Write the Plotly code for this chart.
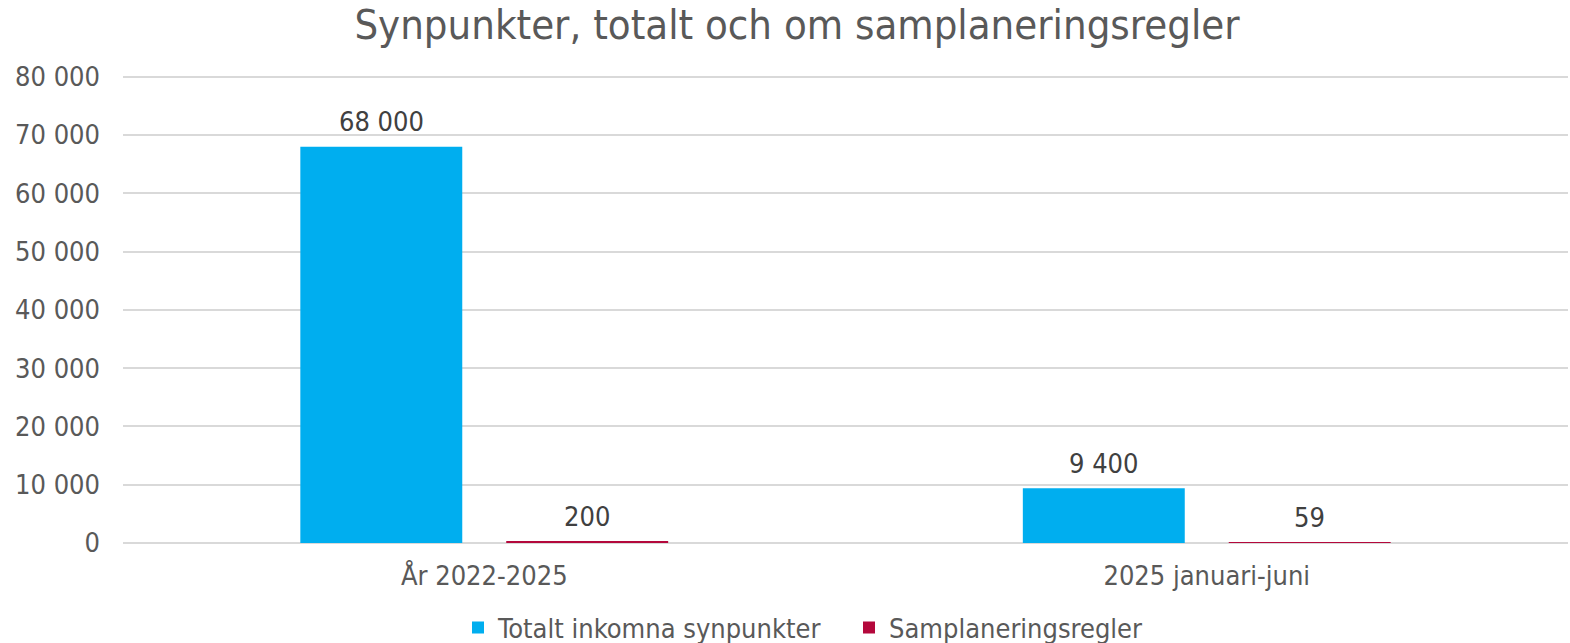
import plotly.graph_objects as go

categories = ["År 2022-2025", "2025 januari-juni"]
series_names = ["Totalt inkomna synpunkter", "Samplaneringsregler"]
totalt = [68000, 9400]
samplanering = [200, 59]
tick_vals = [0, 10000, 20000, 30000, 40000, 50000, 60000, 70000, 80000]
tick_text = ["0", "10 000", "20 000", "30 000", "40 000", "50 000", "60 000", "70 000", "80 000"]
label_totalt = ["68 000", "9 400"]
label_samplanering = ["200", "59"]

FONT = "DejaVu Sans Condensed, DejaVu Sans, sans-serif"
colors = ["#00AEEF", "#B4083C"]

W, H = 1570, 643
ML, MR, MT, MB = 123, 2, 75, 100
BARGAP, BARGROUPGAP = 0.43, 0.2136

fig = go.Figure()
for name, vals, col in zip(series_names, [totalt, samplanering], colors):
    fig.add_trace(go.Bar(
        x=categories, y=vals, name=name,
        marker=dict(color=col, line=dict(width=0)),
    ))

# data labels above each bar
cat_px = (W - ML - MR) / len(categories)
slot_px = cat_px * (1 - BARGAP) / 2
for i, (vals, labels) in enumerate([(totalt, label_totalt), (samplanering, label_samplanering)]):
    shift = (i - 0.5) * slot_px
    for c, v, t in zip(categories, vals, labels):
        fig.add_annotation(x=c, y=v, xref="x", yref="y", text=t, showarrow=False,
                           xshift=shift, yshift=25, yanchor="middle", xanchor="center",
                           font=dict(size=27, color="#404040", family=FONT))

fig.update_layout(
    width=W, height=H,
    margin=dict(l=ML, r=MR, t=MT, b=MB),
    paper_bgcolor="white", plot_bgcolor="white",
    font=dict(family=FONT, color="#595959", size=27),
    title=dict(text="Synpunkter, totalt och om samplaneringsregler",
               x=797 / W, xanchor="center", y=0.962, yanchor="middle",
               font=dict(size=41.5, color="#595959", family=FONT)),
    barmode="group", bargap=BARGAP, bargroupgap=BARGROUPGAP,
    legend=dict(orientation="h", x=(472 - 14) / W, xanchor="left", xref="container",
                y=1 - 628 / H, yanchor="middle", yref="container",
                font=dict(size=27, color="#595959", family=FONT),
                itemwidth=30, tracegroupgap=0, entrywidth=346, entrywidthmode="pixels"),
    showlegend=True,
)
fig.update_yaxes(range=[0, 80300], tickvals=tick_vals, ticktext=tick_text,
                 showgrid=True, gridcolor="#D9D9D9", gridwidth=2,
                 zeroline=True, zerolinecolor="#D9D9D9", zerolinewidth=2,
                 showline=False, ticks="", ticklabelstandoff=22, automargin=False,
                 tickfont=dict(size=27, color="#595959"))
fig.update_xaxes(showline=False, ticks="", automargin=False,
                 tickfont=dict(size=27, color="#595959"),
                 ticklabelstandoff=14)

fig.write_html("out.html", config={"displayModeBar": False},
               post_script="document.body.style.margin='0';")
